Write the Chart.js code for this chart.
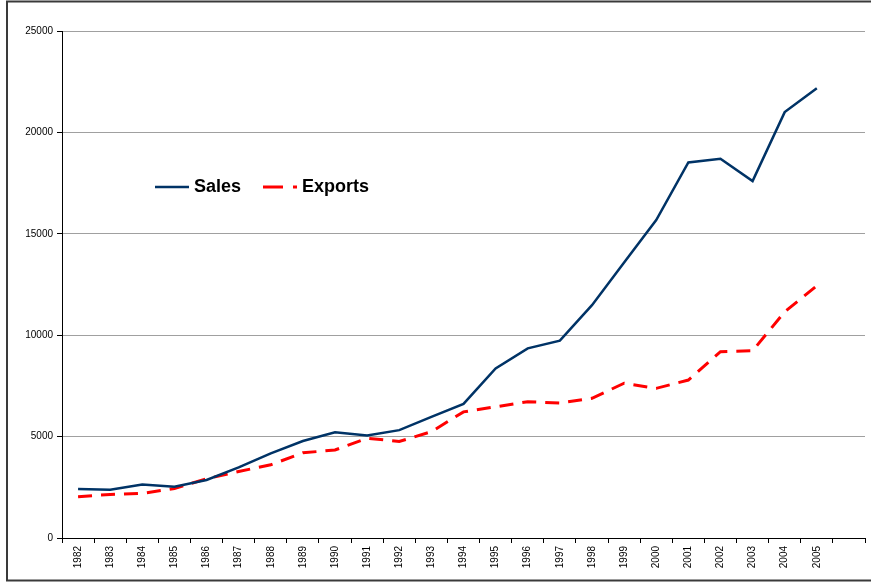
<!DOCTYPE html>
<html>
<head>
<meta charset="utf-8">
<script src="https://cdn.jsdelivr.net/npm/chart.js@4.4.0/dist/chart.umd.min.js"></script>
<style>
  html, body { margin: 0; padding: 0; background: #fff; }
  #wrap { width: 871px; height: 582px; }
</style>
</head>
<body>
<div id="wrap"><canvas id="chart" width="871" height="582"></canvas></div>
<script>
// years on the x axis (last slot is empty like in the original)
const years = ["1982", "1983", "1984", "1985", "1986", "1987", "1988", "1989", "1990", "1991",
  "1992", "1993", "1994", "1995", "1996", "1997", "1998", "1999", "2000", "2001",
  "2002", "2003", "2004", "2005", ""];

const sales = [2420, 2380, 2640, 2530, 2860, 3480, 4170, 4780, 5210, 5050,
  5320, 5970, 6610, 8360, 9350, 9730, 11480, 13580, 15680, 18520,
  18700, 17600, 21000, 22180];

const exportsData = [2040, 2150, 2200, 2440, 2920, 3280, 3610, 4200, 4340, 4920,
  4760, 5240, 6220, 6470, 6720, 6660, 6890, 7630, 7380, 7790,
  9190, 9230, 11150, 12440];

const yTicks = [0, 5000, 10000, 15000, 20000, 25000];

const ctx = document.getElementById("chart").getContext("2d");

// frame round the whole picture
const framePlugin = {
  id: "frame",
  beforeDraw(chart) {
    const c = chart.ctx;
    c.save();
    c.fillStyle = "#fff";
    c.fillRect(0, 0, chart.width, chart.height);
    c.strokeStyle = "#3a3a3a";
    c.lineWidth = 2;
    c.strokeRect(7, 1.5, chart.width + 5, chart.height - 3);
    c.restore();
  }
};

// legend drawn inside the plot, left side
const innerLegend = {
  id: "innerLegend",
  afterDraw(chart) {
    const c = chart.ctx;
    const y = 187;
    const items = [{ x: 155, tx: 194 }, { x: 263, tx: 302 }];
    c.save();
    c.font = "bold 18px 'Liberation Sans', Arial, sans-serif";
    c.textBaseline = "middle";
    chart.data.datasets.forEach((ds, i) => {
      const it = items[i];
      c.strokeStyle = ds.borderColor;
      c.lineWidth = ds.borderWidth;
      c.setLineDash(ds.borderDash ? [20, 10] : []);
      c.beginPath();
      c.moveTo(it.x, y);
      c.lineTo(it.x + 34, y);
      c.stroke();
      c.setLineDash([]);
      c.fillStyle = "#000";
      c.fillText(ds.label, it.tx, y);
    });
    c.restore();
  }
};

new Chart(ctx, {
  type: "line",
  data: {
    labels: years,
    datasets: [
      {
        label: "Sales",
        data: sales,
        borderColor: "#003366",
        borderWidth: 2.5,
        pointRadius: 0,
        tension: 0,
        fill: false
      },
      {
        label: "Exports",
        data: exportsData,
        borderColor: "#ff0000",
        borderWidth: 3,
        borderDash: [14, 9],
        pointRadius: 0,
        tension: 0,
        fill: false
      }
    ]
  },
  options: {
    responsive: false,
    animation: false,
    layout: { padding: { left: 0, top: 31, right: 6, bottom: 0 } },
    plugins: {
      legend: { display: false },
      tooltip: { enabled: false }
    },
    scales: {
      x: {
        offset: true,
        grid: {
          offset: true,
          drawOnChartArea: false,
          drawTicks: true,
          tickLength: 5,
          tickColor: "#000"
        },
        border: { display: true, color: "#000", width: 1 },
        ticks: {
          minRotation: 90,
          maxRotation: 90,
          autoSkip: false,
          padding: 3,
          color: "#000",
          font: { family: "'Liberation Sans', Arial, sans-serif", size: 10 }
        },
        afterFit(scale) { scale.height = 44; }
      },
      y: {
        min: 0,
        max: 25000,
        afterBuildTicks(scale) { scale.ticks = yTicks.map(v => ({ value: v })); },
        grid: {
          color: "#a0a0a0",
          lineWidth: 1,
          tickLength: 5,
          tickColor: "#000"
        },
        border: { display: true, color: "#000", width: 1 },
        ticks: {
          padding: 4,
          color: "#000",
          font: { family: "'Liberation Sans', Arial, sans-serif", size: 10 },
          callback: v => String(v)
        },
        afterFit(scale) { scale.width = 62; }
      }
    }
  },
  plugins: [framePlugin, innerLegend]
});
</script>
</body>
</html>
